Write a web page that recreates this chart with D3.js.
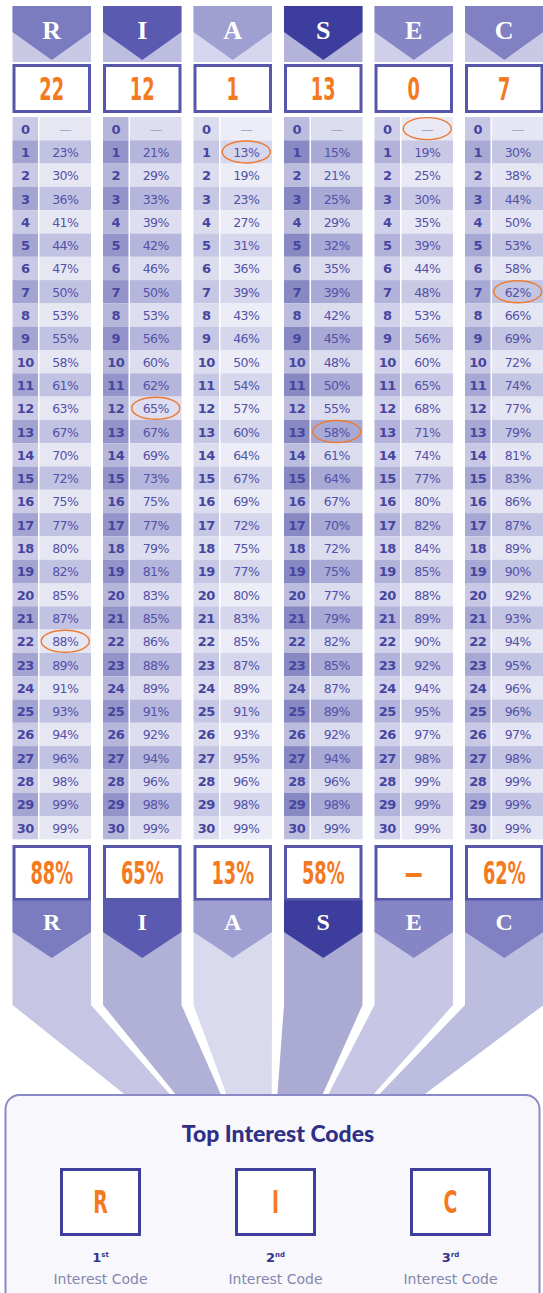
<!DOCTYPE html>
<html><head><meta charset="utf-8">
<script src="https://cdn.jsdelivr.net/npm/d3@7"></script>
<style>html,body{margin:0;padding:0;background:#fff;} svg{display:block}</style>
</head><body><svg id="c" width="543" height="1293"></svg>
<script>
// ---------- data ----------
const codes = ["R","I","A","S","E","C"];
const scores = [22,12,1,13,0,7];
const rawScores = [0,1,2,3,4,5,6,7,8,9,10,11,12,13,14,15,16,17,18,19,20,21,22,23,24,25,26,27,28,29,30];
const pctR = [null,23,30,36,41,44,47,50,53,55,58,61,63,67,70,72,75,77,80,82,85,87,88,89,91,93,94,96,98,99,99];
const pctI = [null,21,29,33,39,42,46,50,53,56,60,62,65,67,69,73,75,77,79,81,83,85,86,88,89,91,92,94,96,98,99];
const pctA = [null,13,19,23,27,31,36,39,43,46,50,54,57,60,64,67,69,72,75,77,80,83,85,87,89,91,93,95,96,98,99];
const pctS = [null,15,21,25,29,32,35,39,42,45,48,50,55,58,61,64,67,70,72,75,77,79,82,85,87,89,92,94,96,98,99];
const pctE = [null,19,25,30,35,39,44,48,53,56,60,65,68,71,74,77,80,82,84,85,88,89,90,92,94,95,97,98,99,99,99];
const pctC = [null,30,38,44,50,53,58,62,66,69,72,74,77,79,81,83,86,87,89,90,92,93,94,95,96,96,97,98,99,99,99];
const topCodes = ["R","I","C"];
const ordinalNums = ["1","2","3"];
const ordinalSuffix = ["st","nd","rd"];
const titleText = "Top Interest Codes";
const subLabel = "Interest Code";

const series = [pctR,pctI,pctA,pctS,pctE,pctC];

// ---------- styles ----------
const pal = {
  headerDark: ["#7b7bc0","#5a5ab0","#9f9fd2","#3d3d9d","#8686c6","#8080c2"],
  headerLight:["#c9c9e6","#bdbde0","#d6d6ee","#b4b4da","#cfcfea","#c9c9e6"],
  numOdd:     ["#a4a4d3","#9494ca","#c6c6e5","#8888c3","#b2b2da","#a8a8d4"],
  pctOdd:     ["#c2c2e3","#b6b6dc","#d6d6ed","#a9a9d5","#c9c9e6","#c4c4e3"],
  numEven:    ["#cacae6","#b6b6db","#dcdcef","#bcbcde","#d0d0ea","#c8c8e5"],
  pctEven:    ["#e7e7f4","#dedef0","#ededf7","#dcdcef","#e9e9f5","#e5e5f3"],
  band:       ["#c6c6e4","#b1b1d8","#dadaee","#aaaad3","#c7c7e5","#bdbddf"]
};
const orange = "#f47a22";
const boxStroke = "#5656aa";
const condensed = "'Liberation Sans Narrow','DejaVu Sans Condensed','Liberation Sans',sans-serif";

const svg = d3.select("#c");

// ---------- scales ----------
const x = d3.scaleBand().domain(codes).range([12.5, 543.5]).paddingInner(0.1326).paddingOuter(0);
const y = d3.scaleBand().domain(rawScores).range([117, 117 + 31*23.3]);
const xBottom = d3.scaleBand().domain(codes).range([128, 421]).paddingInner(0.11);
const xTop = d3.scalePoint().domain(topCodes).range([100.5, 450.5]);

const bw = x.bandwidth();
const numW = 25.5, gap = 1.5;
const cols = codes.map((c,i)=>({code:c, i, score:scores[i], vals:series[i], x0:x(c), x1:x(c)+bw, xc:x(c)+bw/2}));

// ---------- bottom fan bands ----------
const bandTop = 900, bendY = 1005, boxTop = 1095;
svg.append("g").selectAll("path").data(cols).join("path")
  .attr("d", d => {
    const bx0 = xBottom(d.code), bx1 = bx0 + xBottom.bandwidth();
    return `M${d.x0},${bandTop}L${d.x1},${bandTop}L${d.x1},${bendY}L${bx1},${boxTop+2}L${bx0},${boxTop+2}L${d.x0},${bendY}Z`;
  })
  .attr("fill", d => pal.band[d.i]);

// ---------- headers ----------
const hTop = 6, hBend = 32, hTip = 60, hBottom = 62;
const head = svg.append("g").selectAll("g").data(cols).join("g");
head.append("rect").attr("x", d=>d.x0).attr("y", hTop).attr("width", bw).attr("height", hBottom-hTop)
  .attr("fill", d=>pal.headerLight[d.i]);
head.append("path")
  .attr("d", d=>`M${d.x0},${hTop}L${d.x1},${hTop}L${d.x1},${hBend}L${d.xc},${hTip}L${d.x0},${hBend}Z`)
  .attr("fill", d=>pal.headerDark[d.i]);
head.append("text").attr("x", d=>d.xc).attr("y", 30).attr("text-anchor","middle").attr("dominant-baseline","central")
  .attr("font-family","'Liberation Serif','DejaVu Serif',serif").attr("font-weight","bold").attr("font-size",26)
  .attr("fill","#fff").text(d=>d.code);

// ---------- score boxes ----------
const sb = svg.append("g").selectAll("g").data(cols).join("g");
sb.append("rect").attr("x", d=>d.x0+1.5).attr("y", 65.5).attr("width", bw-3).attr("height", 46)
  .attr("fill","#fff").attr("stroke", boxStroke).attr("stroke-width",3);
sb.append("text").attr("transform", d=>`translate(${d.xc},${89}) scale(0.66,1.08)`)
  .attr("text-anchor","middle").attr("dominant-baseline","central")
  .attr("font-family",condensed).attr("font-weight","bold").attr("font-size",30)
  .attr("fill",orange).text(d=>d.score);

// ---------- table ----------
const rh = y.bandwidth();
const tbl = svg.append("g");
cols.forEach(col => {
  const g = tbl.append("g");
  const rows = g.selectAll("g").data(rawScores).join("g");
  rows.append("rect").attr("x", col.x0).attr("y", r=>y(r)).attr("width", numW).attr("height", rh)
    .attr("fill", r => r%2 ? pal.numOdd[col.i] : pal.numEven[col.i]);
  rows.append("rect").attr("x", col.x0+numW+gap).attr("y", r=>y(r)).attr("width", bw-numW-gap).attr("height", rh)
    .attr("fill", r => r%2 ? pal.pctOdd[col.i] : pal.pctEven[col.i]);
  rows.append("text").attr("x", col.x0+numW/2).attr("y", r=>y(r)+rh/2+0.5)
    .attr("text-anchor","middle").attr("dominant-baseline","central")
    .attr("font-family","'DejaVu Sans',sans-serif").attr("font-weight","bold").attr("font-size",13)
    .attr("letter-spacing", -0.5)
    .attr("fill","#4646a0").text(r=>r);
  rows.append("text").attr("x", col.x0+numW+gap+(bw-numW-gap)/2).attr("y", r=>y(r)+rh/2+0.5)
    .attr("text-anchor","middle").attr("dominant-baseline","central")
    .attr("font-family","'DejaVu Sans',sans-serif").attr("font-size",12.5).attr("letter-spacing",-0.6)
    .attr("fill", (r)=> col.vals[r]==null ? "#a6a6d0" : "#5252a8")
    .text(r => col.vals[r]==null ? "—" : col.vals[r] + "%");
  // highlight of the score
  g.append("ellipse").attr("cx", col.x0+numW+gap+(bw-numW-gap)/2).attr("cy", y(col.score)+rh/2)
    .attr("rx", 24).attr("ry", 11).attr("fill","none").attr("stroke","#ee7a30").attr("stroke-width",1.4);
});

// ---------- percentile result boxes ----------
const pb = svg.append("g").selectAll("g").data(cols).join("g");
pb.append("rect").attr("x", d=>d.x0+1.5).attr("y", 846.5).attr("width", bw-3).attr("height", 53)
  .attr("fill","#fff").attr("stroke", boxStroke).attr("stroke-width",3);
pb.append("text").attr("transform", d=>`translate(${d.xc},${873}) scale(0.66,1.08)`)
  .attr("text-anchor","middle").attr("dominant-baseline","central")
  .attr("font-family",condensed).attr("font-weight","bold").attr("font-size",30)
  .attr("fill",orange).text(d => d.vals[d.score]==null ? "—" : d.vals[d.score] + "%");

// ---------- bottom chevrons ----------
const bTop = 900.5, bBend = 932, bTip = 958;
const bc = svg.append("g").selectAll("g").data(cols).join("g");
bc.append("path")
  .attr("d", d=>`M${d.x0},${bTop}L${d.x1},${bTop}L${d.x1},${bBend}L${d.xc},${bTip}L${d.x0},${bBend}Z`)
  .attr("fill", d=>pal.headerDark[d.i]);
bc.append("text").attr("x", d=>d.xc).attr("y", 922).attr("text-anchor","middle").attr("dominant-baseline","central")
  .attr("font-family","'Liberation Serif','DejaVu Serif',serif").attr("font-weight","bold").attr("font-size",24)
  .attr("fill","#fff").text(d=>d.code);

// ---------- top codes box ----------
svg.append("rect").attr("x",5.5).attr("y",boxTop).attr("width",534).attr("height",230).attr("rx",14)
  .attr("fill","#f7f7fc").attr("stroke","#8a8ac6").attr("stroke-width",2);
svg.append("text").attr("x",278).attr("y",1142).attr("text-anchor","middle")
  .attr("font-family","Lato,'Open Sans',sans-serif").attr("font-weight",900).attr("font-size",23)
  .attr("fill","#2f2f86").text(titleText);

const tc = svg.append("g").selectAll("g").data(topCodes).join("g")
  .attr("transform", d=>`translate(${xTop(d)},0)`);
tc.append("rect").attr("x",-39).attr("y",1169.5).attr("width",78).attr("height",65)
  .attr("fill","#fff").attr("stroke","#3e3e9c").attr("stroke-width",3);
tc.append("text").attr("transform","translate(0,1202) scale(0.7,1.08)").attr("text-anchor","middle").attr("dominant-baseline","central")
  .attr("font-family",condensed).attr("font-weight","bold").attr("font-size",30)
  .attr("fill",orange).text(d=>d);
const ord = tc.append("text").attr("x",0).attr("y",1262).attr("text-anchor","middle")
  .attr("font-family","'DejaVu Sans',sans-serif").attr("font-weight","bold").attr("fill","#34348a");
ord.append("tspan").attr("font-size",13).text((d,i)=>ordinalNums[i]);
ord.append("tspan").attr("font-size",7).attr("dy",-5).text((d,i)=>ordinalSuffix[i]);
tc.append("text").attr("x",0).attr("y",1284).attr("text-anchor","middle")
  .attr("font-family","'DejaVu Sans',sans-serif").attr("font-size",14)
  .attr("fill","#8686ae").text(subLabel);
</script>
</body></html>
